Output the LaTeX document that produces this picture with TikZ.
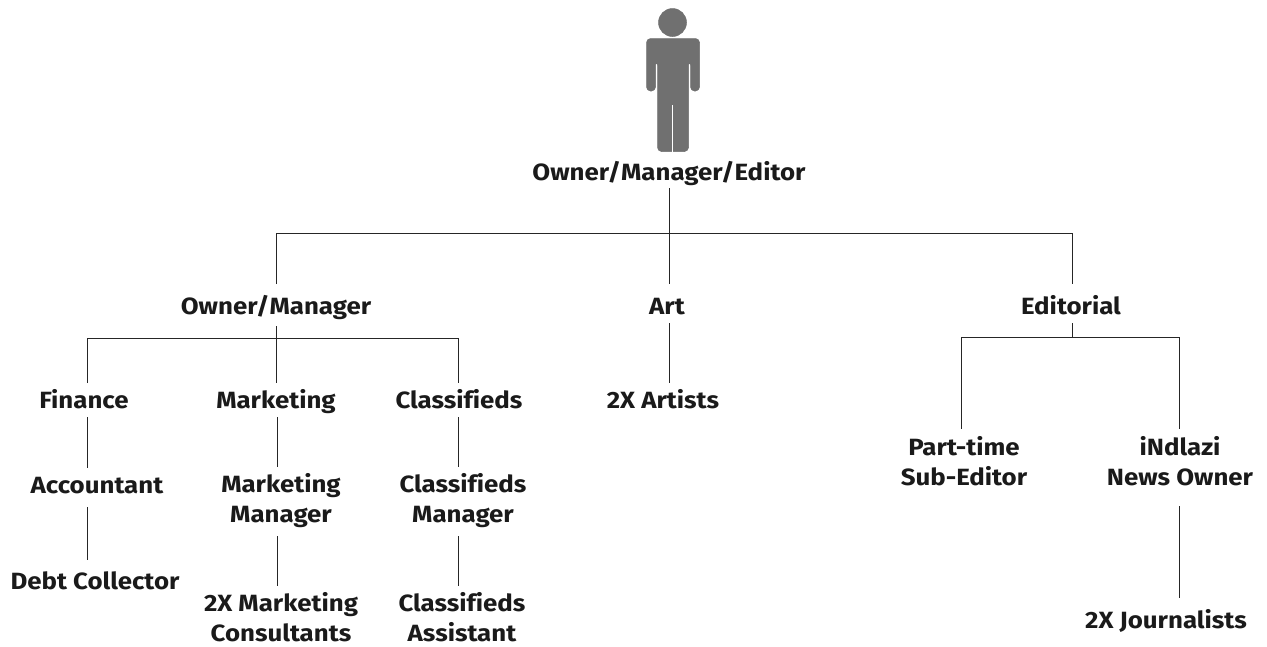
\documentclass[tikz,border=0pt]{standalone}
\usepackage{fontspec}
\usetikzlibrary{calc}
\setmainfont[FakeStretch=1.1,Ligatures=NoCommon]{Fira Sans}
\definecolor{person}{HTML}{707070}
\definecolor{ink}{HTML}{1A1A1A}
\newcommand{\twolines}[2]{\vphantom{Ag}#1\\\vphantom{Ag}#2}
\tikzset{
  lbl/.style={inner sep=0pt,outer sep=0pt,align=center,text=ink,font=\fontsize{23.5}{30}\selectfont\bfseries},
  one/.style={lbl,text height=17pt,text depth=5pt},
  conn/.style={draw=black!85,line width=0.75pt},
  figure/.style={fill=person,draw=person,line width=0.5pt,line join=round}
}
\begin{document}
\begin{tikzpicture}[x=1pt,y=-1pt]
\useasboundingbox (0,0) rectangle (1267,646);
% person
\fill[figure] (672.5,22.5) circle (14);
\fill[figure,rounded corners=4pt] (646.5,91) -- (646.5,38.5) -- (699.5,38.5) -- (699.5,91) -- (690.5,91) -- (690.5,61) -- (688.5,61) -- (688.5,151.5) -- (657.5,151.5) -- (657.5,61) -- (655.5,61) -- (655.5,91) -- cycle;
\draw[white,line width=1.2pt] (672.7,105) -- (672.7,153);
% labels
\node[one] (top) at (669,174) {Owner/Manager/Editor};
\node[one] (om) at (276,308) {Owner/Manager};
\node[one] (art) at (667,308) {Art};
\node[one] (ed) at (1071,308) {Editorial};
\node[one] (fin) at (84,402) {Finance};
\node[one] (mkt) at (276,402) {Marketing};
\node[one] (cls) at (459,402) {Classifieds};
\node[one] (acc) at (97,487) {Accountant};
\node[lbl] (mm) at (281,501) {\twolines{Marketing}{Manager}};
\node[lbl] (cm) at (463,501) {\twolines{Classifieds}{Manager}};
\node[one] (debt) at (95,583) {Debt Collector};
\node[lbl] (mc) at (281,620) {\twolines{2X Marketing}{Consultants}};
\node[lbl] (ca) at (462,620) {\twolines{Classifieds}{Assistant}};
\node[one] (art2) at (663,402) {2X Artists};
\node[lbl] (pt) at (964,464) {\twolines{Part-time}{Sub-Editor}};
\node[lbl] (ind) at (1180,464) {\twolines{iNdlazi}{News Owner}};
\node[one] (jr) at (1166,622) {2X Journalists};
% connector x positions and junctions
\coordinate (xa) at (87,0);
\coordinate (xb) at (277,0);
\coordinate (xc) at (458,0);
\coordinate (xo) at (276,0);
\coordinate (xm) at (669,0);
\coordinate (xe) at (1072,0);
\coordinate (xp) at (961,0);
\coordinate (xi) at (1179,0);
\coordinate (j1) at (669,233);
\coordinate (j2) at (276,338);
\coordinate (j3) at (1072,337);
% connectors
\draw[conn] ($(top.south -| xm)+(0,3)$) -- ($(art.north -| xm)+(0,-13)$);
\draw[conn] ($(om.north -| xo)+(0,-13)$) -- (j1 -| xo) -- (j1 -| xe) -- ($(ed.north -| xe)+(0,-13)$);
\draw[conn] ($(om.south -| xo)+(0,7)$) -- ($(mkt.north -| xo)+(0,-8)$);
\draw[conn] ($(fin.north -| xa)+(0,-8)$) -- (j2 -| xa) -- (j2 -| xc) -- ($(cls.north -| xc)+(0,-8)$);
\draw[conn] ($(fin.south -| xa)+(0,4)$) -- ($(acc.north -| xa)+(0,-8)$);
\draw[conn] ($(mkt.south -| xb)+(0,4)$) -- ($(mm.north -| xb)+(0,-7)$);
\draw[conn] ($(cls.south -| xc)+(0,4)$) -- ($(cm.north -| xc)+(0,-7)$);
\draw[conn] ($(acc.south -| xa)+(0,9)$) -- ($(debt.north -| xa)+(0,-12)$);
\draw[conn] ($(mm.south -| xb)+(0,8)$) -- ($(mc.north -| xb)+(0,-7)$);
\draw[conn] ($(cm.south -| xc)+(0,8)$) -- ($(ca.north -| xc)+(0,-7)$);
\draw[conn] ($(art.south -| xm)+(0,4)$) -- ($(art2.north -| xm)+(0,-8)$);
\draw[conn] ($(ed.south -| xe)+(0,4)$) -- (j3);
\draw[conn] ($(pt.north -| xp)+(0,-8)$) -- (j3 -| xp) -- (j3 -| xi) -- ($(ind.north -| xi)+(0,-8)$);
\draw[conn] ($(ind.south -| xi)+(0,15)$) -- ($(jr.north -| xi)+(0,-13)$);
\end{tikzpicture}
\end{document}
